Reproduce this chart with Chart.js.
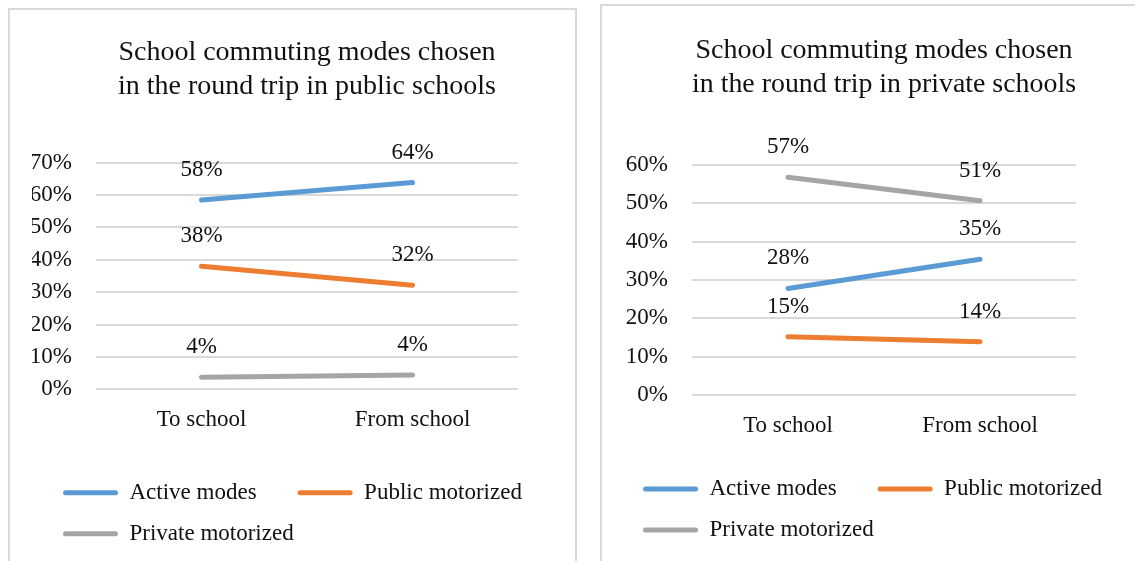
<!DOCTYPE html>
<html>
<head>
<meta charset="utf-8">
<script src="https://cdn.jsdelivr.net/npm/chart.js@4/dist/chart.umd.min.js"></script>
<style>
  body { margin: 0; width: 1135px; height: 561px; background: #fff; position: relative; overflow: hidden; }
  .panel { position: absolute; border: 2px solid #d9d9d9; box-sizing: border-box; }
  #p1 { left: 8px; top: 8px; width: 569px; height: 580px; }
  #p2 { left: 600px; top: 4px; width: 580px; height: 590px; }
  .box { position: absolute; }
  #b1 { left: 9px; top: 9px; width: 567px; height: 552px; }
  #b2 { left: 602px; top: 5px; width: 533px; height: 556px; }
</style>
</head>
<body>
<div class="panel" id="p1"></div>
<div class="panel" id="p2"></div>
<div class="box" id="b1"><canvas id="chart-public"></canvas></div>
<div class="box" id="b2"><canvas id="chart-private"></canvas></div>

<script>
const categories = ['To school', 'From school'];
const seriesNames = ['Active modes', 'Public motorized', 'Private motorized'];
const seriesColors = ['#5b9bd5', '#ed7d31', '#a5a5a5'];

// public schools (percent)
const publicActive = [58.4, 63.8];
const publicTransit = [38.0, 32.1];
const publicPrivateCar = [3.7, 4.4];

// private schools (percent)
const privateActive = [27.8, 35.4];
const privateTransit = [15.2, 13.9];
const privatePrivateCar = [56.8, 50.7];

const publicTicksMax = 70;
const privateTicksMax = 60;

const FONT = '"Liberation Serif", "Times New Roman", serif';
const INK = '#111';

// draws the value labels above each point
const pointLabels = {
    id: 'pointLabels',
    afterDatasetsDraw(chart) {
        const ctx = chart.ctx;
        ctx.save();
        ctx.font = '23px ' + FONT;
        ctx.fillStyle = INK;
        ctx.textAlign = 'center';
        ctx.textBaseline = 'middle';
        chart.data.datasets.forEach((ds, i) => {
            const meta = chart.getDatasetMeta(i);
            meta.data.forEach((pt, j) => {
                ctx.fillText(Math.round(ds.data[j]) + '%', pt.x, pt.y - 30);
            });
        });
        ctx.restore();
    },
};

// nudges the legend sideways without touching the axes
const legendShift = {
    id: 'legendShift',
    afterLayout(chart, args, opts) {
        if (!opts.x || !chart.legend) return;
        chart.legend.left += opts.x;
        chart.legend.right += opts.x;
    },
};

function makeChart(canvasId, title, values, yMax, lay) {
    const canvas = document.getElementById(canvasId);
    const datasets = values.map((data, i) => ({
        label: seriesNames[i],
        data,
        borderColor: seriesColors[i],
        backgroundColor: seriesColors[i],
        borderWidth: 5,
        borderCapStyle: 'round',
        pointRadius: 0,
        tension: 0,
    }));

    return new Chart(canvas, {
        type: 'line',
        data: { labels: categories, datasets },
        plugins: [pointLabels, legendShift],
        options: {
            responsive: true,
            maintainAspectRatio: false,
            animation: false,
            layout: { padding: { left: lay.padL, right: lay.padR, top: 0, bottom: lay.padB } },
            scales: {
                x: {
                    offset: true,
                    grid: { display: false },
                    border: { display: false },
                    ticks: { font: { family: FONT, size: 23 }, color: INK, padding: 9 },
                    afterFit: (s) => { s.height = lay.xHeight; },
                },
                y: {
                    min: 0,
                    max: yMax,
                    ticks: {
                        stepSize: 10,
                        padding: 24,
                        font: { family: FONT, size: 23 },
                        color: INK,
                        callback: (v) => v + '%',
                    },
                    grid: { color: '#d9d9d9', lineWidth: 2, drawTicks: false },
                    border: { display: false },
                    afterFit: (s) => { s.width = lay.yWidth; },
                },
                // empty axis on the right, keeps the plot narrower than the legend row
                yRight: {
                    position: 'right',
                    display: true,
                    grid: { display: false },
                    border: { display: false },
                    ticks: { display: false },
                    afterFit: (s) => { s.width = lay.rightGap; },
                },
            },
            plugins: {
                title: {
                    display: true,
                    text: title,
                    fullSize: false,
                    color: INK,
                    font: { family: FONT, size: 28, weight: 'normal', lineHeight: 1.2 },
                    padding: { top: lay.titleTop, bottom: lay.titleBottom },
                },
                legend: {
                    position: 'bottom',
                    align: 'start',
                    labels: {
                        boxWidth: 55,
                        boxHeight: 5,
                        padding: 18,
                        color: INK,
                        font: { family: FONT, size: 23 },
                        generateLabels(chart) {
                            const items = Chart.defaults.plugins.legend.labels.generateLabels(chart);
                            items.forEach((it, i) => {
                                it.lineWidth = 0;
                                it.borderRadius = 2.5;
                                if (i === 0) it.text = it.text + '    ';
                            });
                            return items;
                        },
                    },
                },
                legendShift: { x: lay.legendShift },
                tooltip: { enabled: false },
            },
        },
    });
}

makeChart('chart-public',
    ['School commuting modes chosen', 'in the round trip in public schools'],
    [publicActive, publicTransit, publicPrivateCar],
    publicTicksMax,
    { padL: 23, padR: 10, padB: 5.8, xHeight: 73.9, yWidth: 64, rightGap: 48,
      titleTop: 27.2, titleBottom: 59.1, legendShift: 13 });

makeChart('chart-private',
    ['School commuting modes chosen', 'in the round trip in private schools'],
    [privateActive, privateTransit, privatePrivateCar],
    privateTicksMax,
    { padL: 23, padR: 5, padB: 9.5, xHeight: 64.5, yWidth: 67, rightGap: 54,
      titleTop: 29.2, titleBottom: 63.6, legendShift: 0 });
</script>
</body>
</html>
